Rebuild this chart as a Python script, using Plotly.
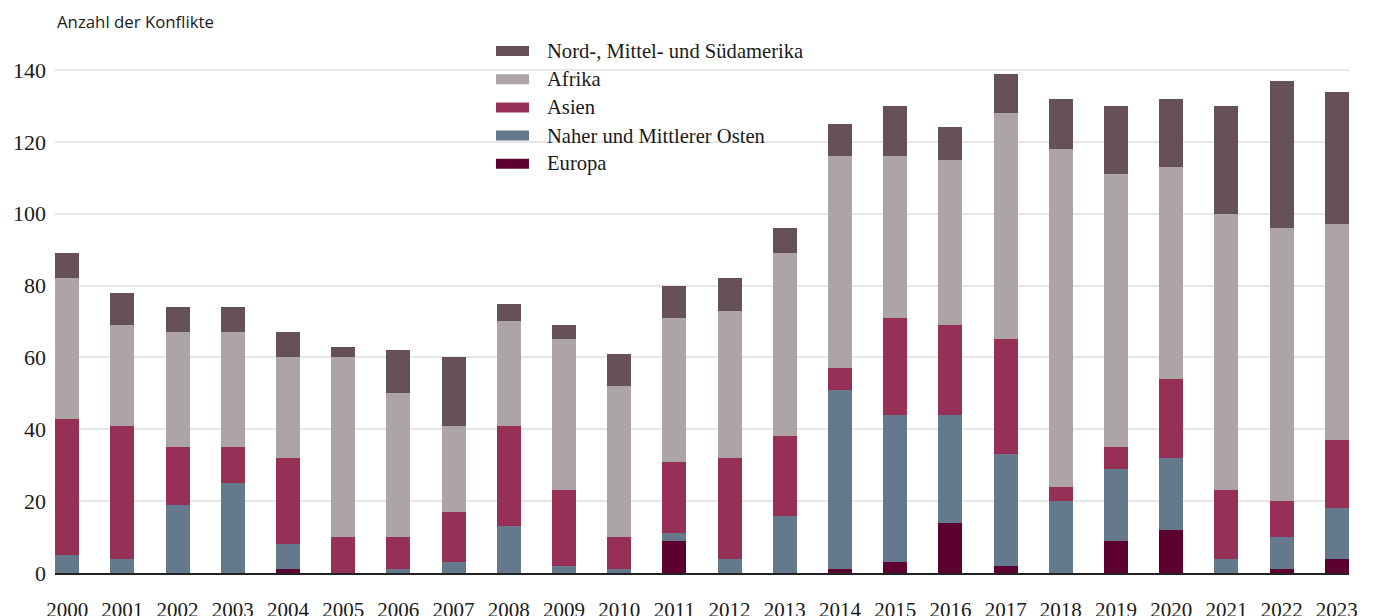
import plotly.graph_objects as go

years = [str(y) for y in range(2000, 2024)]

europa = [0, 0, 0, 0, 1, 0, 0, 0, 0, 0, 0, 9, 0, 0, 1, 3, 14, 2, 0, 9, 12, 0, 1, 4]
naher = [5, 4, 19, 25, 7, 0, 1, 3, 13, 2, 1, 2, 4, 16, 50, 41, 30, 31, 20, 20, 20, 4, 9, 14]
asien = [38, 37, 16, 10, 24, 10, 9, 14, 28, 21, 9, 20, 28, 22, 6, 27, 25, 32, 4, 6, 22, 19, 10, 19]
afrika = [39, 28, 32, 32, 28, 50, 40, 24, 29, 42, 42, 40, 41, 51, 59, 45, 46, 63, 94, 76, 59, 77, 76, 60]
amerika = [7, 9, 7, 7, 7, 3, 12, 19, 5, 4, 9, 9, 9, 7, 9, 14, 9, 11, 14, 19, 19, 30, 41, 37]

series = [
    ("Europa", europa, "#5d0130"),
    ("Naher und Mittlerer Osten", naher, "#647a8c"),
    ("Asien", asien, "#973057"),
    ("Afrika", afrika, "#ada4a6"),
    ("Nord-, Mittel- und Südamerika", amerika, "#665157"),
]

y_ticks = [0, 20, 40, 60, 80, 100, 120, 140]

W, H = 1373, 616
OFF = 8  # page body margin
ML, MR, MT, MB = 47, 32, 44, 51

fig = go.Figure()
for name, vals, col in series:
    fig.add_trace(go.Bar(x=years, y=vals, name=name, marker_color=col,
                         marker_line_width=0, showlegend=False))

serif = "Liberation Serif"
sans = "Open Sans"

plot_w = W - ML - MR
plot_h = H - MT - MB
def px2x(px):
    return (px - OFF - ML) / plot_w
def py2y(py):
    return (H - MB - (py - OFF)) / plot_h

shapes = []
annotations = []
legend_rows = list(reversed(series))
for i, (name, vals, col) in enumerate(legend_rows):
    cy = 51 + i * 28.2
    shapes.append(dict(type="rect", xref="paper", yref="paper",
                       x0=px2x(496), x1=px2x(529), y0=py2y(cy + 5), y1=py2y(cy - 5),
                       fillcolor=col, line_width=0, layer="above"))
    annotations.append(dict(text=name, xref="paper", yref="paper",
                            x=px2x(545), y=py2y(cy), xanchor="left", yanchor="middle",
                            showarrow=False, font=dict(family=serif, size=20.6, color="#1a1a1a")))

annotations.append(dict(text="Anzahl der Konflikte", xref="paper", yref="paper",
                        x=px2x(55), y=py2y(22), xanchor="left", yanchor="middle",
                        showarrow=False, font=dict(family=sans, size=16.8, color="#1a1a1a")))

fig.update_layout(
    width=W, height=H,
    margin=dict(l=ML, r=MR, t=MT, b=MB),
    barmode="stack", bargap=0.565,
    plot_bgcolor="white", paper_bgcolor="white",
    shapes=shapes, annotations=annotations,
    xaxis=dict(type="category", range=[-0.22, 23.22], showgrid=False,
               showline=True, linecolor="#222222", linewidth=1.5, layer="above traces",
               tickfont=dict(family=serif, size=21, color="#1a1a1a"),
               ticks="", ticklabelstandoff=17, automargin=False, fixedrange=True),
    yaxis=dict(range=[0, 145], tickvals=y_ticks, showgrid=True, gridcolor="#e6e6e6",
               gridwidth=1.5, zeroline=False, showline=False,
               tickfont=dict(family=serif, size=22, color="#1a1a1a"),
               ticks="", ticklabelstandoff=8, automargin=False, fixedrange=True),
)

fig.write_html("out.html")
